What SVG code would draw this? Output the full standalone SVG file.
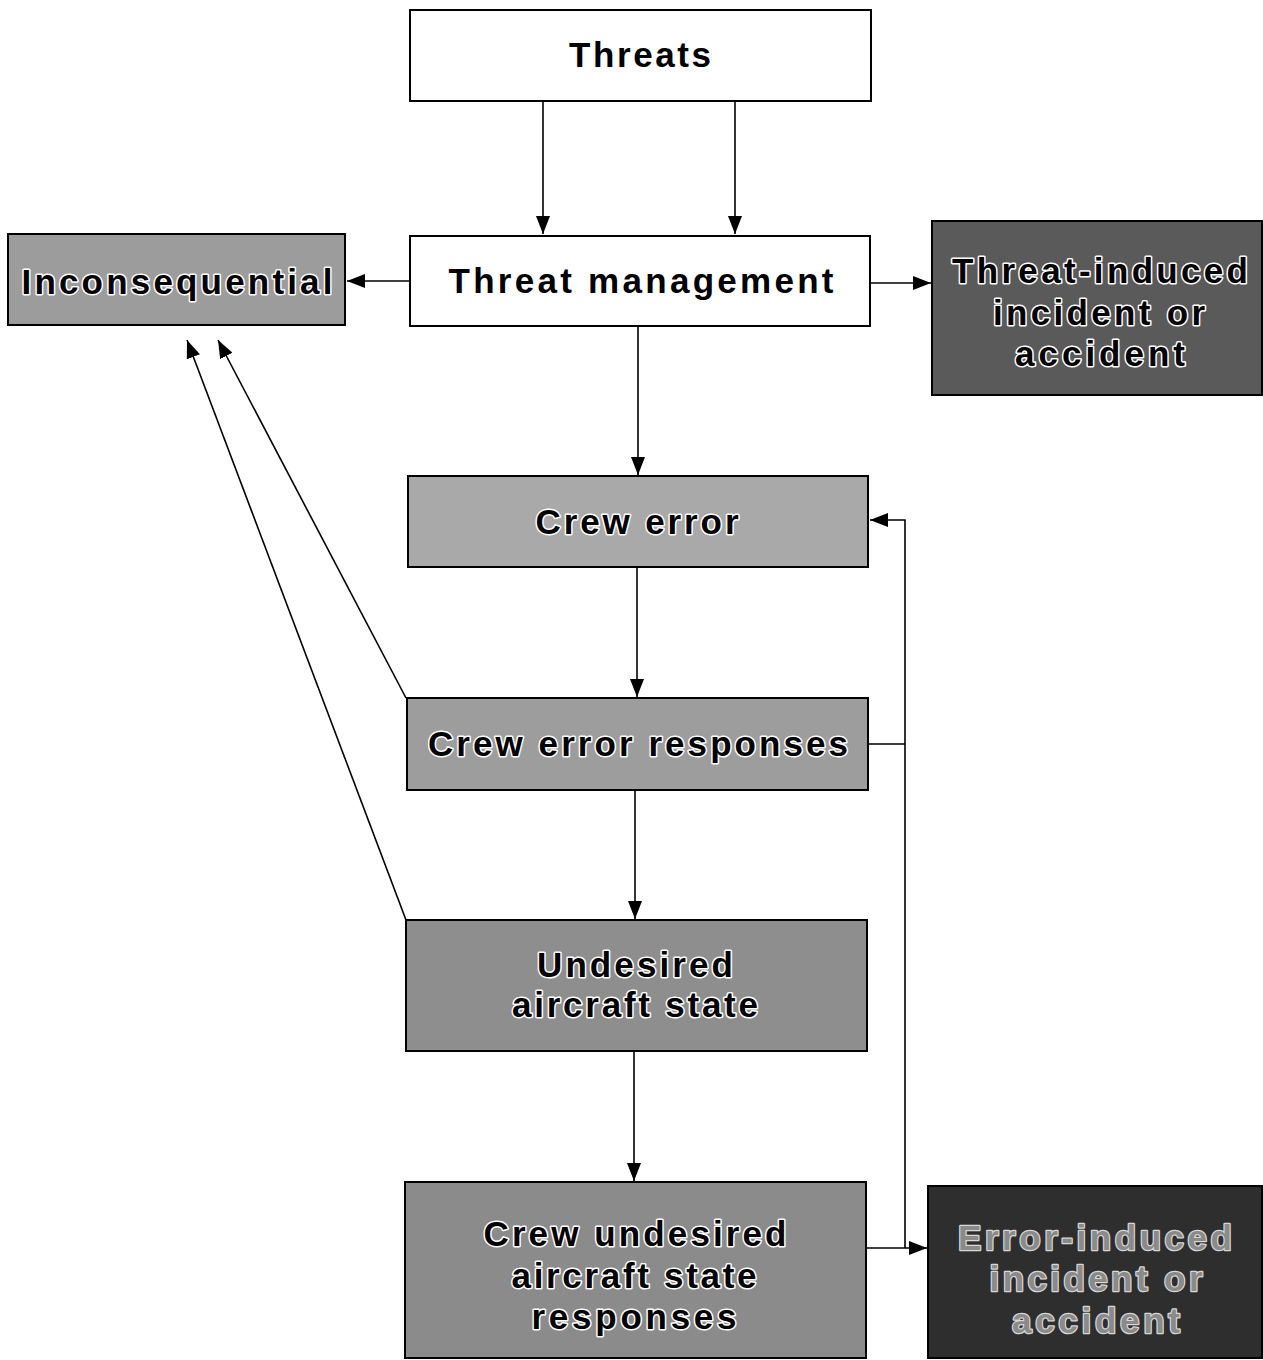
<svg xmlns="http://www.w3.org/2000/svg" width="1263" height="1360" viewBox="0 0 1263 1360">
<style>
.box{stroke:#000;stroke-width:2}
.w{fill:#fff}
.t{font-family:"Liberation Sans",Arial,sans-serif;font-weight:bold;font-size:35px;text-anchor:middle}
.plain{fill:#000}
.halo{fill:#000;stroke:#fff;stroke-width:3;paint-order:stroke;stroke-linejoin:round}
.dk{fill:#8a8a8a;stroke:#d8d8d8;stroke-width:2.5;paint-order:stroke;stroke-linejoin:round}
.c{fill:none;stroke:#000;stroke-width:1.6}
</style>
<defs>
<marker id="ah" markerUnits="userSpaceOnUse" markerWidth="18" markerHeight="14" refX="18" refY="7" orient="auto">
<path d="M0,0 L18,7 L0,14 z" fill="#000"/>
</marker>
</defs>
<rect width="1263" height="1360" fill="#fff"/>
<g id="connectors">
<line class="c" x1="543" y1="101" x2="543" y2="234" marker-end="url(#ah)"/>
<line class="c" x1="735" y1="101" x2="735" y2="234" marker-end="url(#ah)"/>
<line class="c" x1="410" y1="281" x2="347" y2="281" marker-end="url(#ah)"/>
<line class="c" x1="870" y1="283" x2="931" y2="283" marker-end="url(#ah)"/>
<line class="c" x1="638" y1="326" x2="638" y2="475" marker-end="url(#ah)"/>
<line class="c" x1="637" y1="567" x2="637" y2="697" marker-end="url(#ah)"/>
<line class="c" x1="635" y1="790" x2="635" y2="919" marker-end="url(#ah)"/>
<line class="c" x1="634" y1="1051" x2="634" y2="1181" marker-end="url(#ah)"/>
<path class="c" d="M868,744 L905,744 M905,1248 L905,520 L870,520" marker-end="url(#ah)"/>
<line class="c" x1="866" y1="1248" x2="927" y2="1248" marker-end="url(#ah)"/>
<line class="c" x1="406" y1="698" x2="218" y2="340" marker-end="url(#ah)"/>
<line class="c" x1="406" y1="920" x2="187" y2="340" marker-end="url(#ah)"/>
</g>
<g id="threats">
<rect class="box w" x="410" y="10" width="461" height="91"/>
<text class="t plain" x="640" y="67" textLength="142" lengthAdjust="spacing">Threats</text>
</g>
<g id="threat-management">
<rect class="box w" x="410" y="236" width="460" height="90"/>
<text class="t plain" x="641" y="293" textLength="385" lengthAdjust="spacing">Threat management</text>
</g>
<g id="inconsequential">
<rect class="box" x="8" y="234" width="337" height="91" fill="#9c9c9c"/>
<text class="t halo" x="177" y="294" textLength="311" lengthAdjust="spacing">Inconsequential</text>
</g>
<g id="threat-induced">
<rect class="box" x="932" y="221" width="330" height="174" fill="#5a5a5a"/>
<text class="t halo" x="1100" y="283" textLength="296" lengthAdjust="spacing">Threat-induced</text>
<text class="t halo" x="1099" y="325" textLength="212" lengthAdjust="spacing">incident or</text>
<text class="t halo" x="1100" y="366" textLength="170" lengthAdjust="spacing">accident</text>
</g>
<g id="crew-error">
<rect class="box" x="408" y="476" width="460" height="91" fill="#a9a9a9"/>
<text class="t halo" x="637" y="534" textLength="203" lengthAdjust="spacing">Crew error</text>
</g>
<g id="crew-error-responses">
<rect class="box" x="407" y="698" width="461" height="92" fill="#9d9d9d"/>
<text class="t halo" x="638" y="756" textLength="420" lengthAdjust="spacing">Crew error responses</text>
</g>
<g id="undesired-aircraft-state">
<rect class="box" x="406" y="920" width="461" height="131" fill="#8e8e8e"/>
<text class="t halo" x="635" y="977" textLength="196" lengthAdjust="spacing">Undesired</text>
<text class="t halo" x="635" y="1017" textLength="246" lengthAdjust="spacing">aircraft state</text>
</g>
<g id="crew-undesired-aircraft-state-responses">
<rect class="box" x="405" y="1182" width="461" height="176" fill="#8b8b8b"/>
<text class="t halo" x="635" y="1246" textLength="303" lengthAdjust="spacing">Crew undesired</text>
<text class="t halo" x="634" y="1288" textLength="245" lengthAdjust="spacing">aircraft state</text>
<text class="t halo" x="634" y="1329" textLength="205" lengthAdjust="spacing">responses</text>
</g>
<g id="error-induced">
<rect class="box" x="928" y="1186" width="334" height="172" fill="#2e2e2e"/>
<text class="t dk" x="1095" y="1250" textLength="274" lengthAdjust="spacing">Error-induced</text>
<text class="t dk" x="1096" y="1291" textLength="213" lengthAdjust="spacing">incident or</text>
<text class="t dk" x="1096" y="1333" textLength="168" lengthAdjust="spacing">accident</text>
</g>
</svg>
